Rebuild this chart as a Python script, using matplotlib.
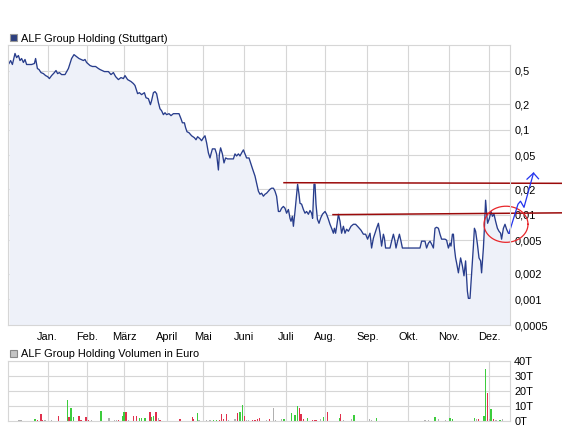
import numpy as np
import matplotlib
matplotlib.use("Agg")
import matplotlib.pyplot as plt
from matplotlib.patches import Rectangle

plt.rcParams['font.family'] = ['Liberation Sans', 'DejaVu Sans']

# trading day index (0..251) and closing price in EUR
days = [0.5, 1.3, 2.2, 3.5, 4.3, 5.2, 6, 6.8, 7.7, 8.5, 9.3, 11.8, 13.2, 13.8, 14.7, 15.5,
        16.5, 17.7, 18.8, 19.8, 20.7, 21.8, 23.2, 24, 24.8, 25.7, 26.8, 28.5, 30.2, 31.8,
        33, 34.3, 35.5, 36.5, 37.7, 38.5, 39.3, 41, 42.2, 43.8, 45.2, 46, 48.2, 50.2, 51.5,
        52.7, 53.8, 55.2, 56.5, 57.7, 58.5, 59.8, 61.5, 62.7, 63.5, 64.3, 64.8, 65.7, 66.8,
        68.2, 69, 70.2, 71.2, 71.8, 72.7, 73.5, 74.3, 75.2, 76, 76.8, 77.7, 78.5, 79.3,
        80.5, 81.5, 82.7, 84.3, 85.5, 86.5, 87.2, 88.2, 88.8, 89.5, 90.5, 91.8, 93.2, 94,
        94.8, 96, 96.8, 97.7, 98.5, 99.3, 100.2, 101, 101.5, 102.2, 103.5, 104.3, 105.2,
        105.7, 106.3, 107.2, 108, 108.8, 109.8, 112.7, 113.5, 114.3, 115.2, 116, 116.8,
        117.7, 118.5, 119.3, 120.5, 121.3, 122.3, 123.5, 124.3, 125.2, 126, 126.8, 127.7,
        128.5, 129.3, 130.2, 131, 131.8, 132.7, 133.5, 134.3, 135.2, 136, 136.8, 137.7,
        138.5, 139.3, 140.2, 141, 141.5, 142.2, 142.7, 143.5, 144.3, 144.8, 145.5, 146,
        146.8, 147.7, 148.5, 149.3, 150.2, 151, 151.8, 152.3, 153, 153.5, 154, 154.7, 155.5,
        156.3, 157.2, 158.5, 159.3, 160.2, 161, 161.8, 162.7, 163.2, 163.8, 164.5, 165.2,
        166, 166.8, 167.7, 168.5, 169.3, 170.2, 171.5, 172.7, 173.8, 175.2, 176.5, 177.7,
        178.8, 179.8, 181, 181.8, 182.7, 183.5, 184.3, 185.2, 186, 186.8, 187.7, 188.2,
        188.8, 191, 191.8, 192.7, 193.5, 194, 194.8, 195.7, 196.5, 197.2, 206, 206.8, 208.5,
        209.3, 210.2, 211, 211.8, 212.7, 213.5, 214.3, 215.2, 216, 216.8, 218.5, 219.3,
        220.2, 221, 221.5, 222.2, 222.7, 223.2, 223.8, 224.3, 225.2, 226.3, 227.2, 228,
        228.8, 229.7, 230.2, 231, 231.8, 232.7, 233.2, 233.8, 234.7, 235.5, 236.3, 236.8,
        237.7, 238.2, 238.8, 239.3, 239.8, 240.7, 241.5, 242.2, 243, 243.8, 244.7, 245.5,
        246.3, 246.8, 247.7, 248.5, 249.3, 250.2, 250.7]
price = [0.605, 0.656, 0.589, 0.795, 0.71, 0.752, 0.656, 0.693, 0.622, 0.675, 0.589, 0.589,
         0.605, 0.693, 0.528, 0.514, 0.473, 0.46, 0.436, 0.424, 0.402, 0.436, 0.473, 0.5,
         0.46, 0.473, 0.448, 0.448, 0.528, 0.693, 0.77, 0.73, 0.693, 0.675, 0.656, 0.675,
         0.622, 0.573, 0.558, 0.558, 0.528, 0.514, 0.486, 0.486, 0.448, 0.473, 0.424, 0.391,
         0.413, 0.402, 0.436, 0.391, 0.371, 0.351, 0.333, 0.29, 0.267, 0.274, 0.26, 0.274,
         0.239, 0.233, 0.198, 0.221, 0.274, 0.282, 0.267, 0.209, 0.177, 0.168, 0.151, 0.159,
         0.151, 0.155, 0.147, 0.155, 0.155, 0.155, 0.135, 0.121, 0.121, 0.106, 0.0949,
         0.0924, 0.0851, 0.0807, 0.0764, 0.0829, 0.0785, 0.0744, 0.0807, 0.0851, 0.0704,
         0.0534, 0.0466, 0.052, 0.0596, 0.0596, 0.052, 0.0336, 0.052, 0.0613, 0.052, 0.0407,
         0.0466, 0.0454, 0.0454, 0.052, 0.0492, 0.052, 0.0492, 0.0534, 0.058, 0.052, 0.0466,
         0.0466, 0.0407, 0.0345, 0.0285, 0.0235, 0.0189, 0.0174, 0.0179, 0.0165, 0.0174,
         0.0179, 0.0189, 0.0199, 0.0205, 0.0205, 0.0189, 0.0165, 0.0109, 0.0109, 0.0119,
         0.0125, 0.0119, 0.0104, 0.0115, 0.00906, 0.00836, 0.00956, 0.00729, 0.0109, 0.0174,
         0.0228, 0.0174, 0.0136, 0.0133, 0.0115, 0.0104, 0.0109, 0.0101, 0.0112, 0.0104,
         0.00906, 0.0228, 0.0228, 0.0133, 0.00882, 0.00791, 0.00906, 0.0101, 0.0109, 0.0101,
         0.00882, 0.0077, 0.00691, 0.00604, 0.00691, 0.00604, 0.0077, 0.0101, 0.00836,
         0.00604, 0.00729, 0.00604, 0.00673, 0.00637, 0.00729, 0.0077, 0.0077, 0.0071,
         0.00655, 0.00588, 0.00588, 0.00514, 0.00604, 0.00404, 0.00528, 0.00604, 0.00691,
         0.00791, 0.00604, 0.00426, 0.00588, 0.00528, 0.00404, 0.00404, 0.00487, 0.00588,
         0.00487, 0.00404, 0.00487, 0.00588, 0.00487, 0.00404, 0.00404, 0.00487, 0.00487,
         0.00404, 0.00461, 0.00487, 0.0045, 0.00404, 0.00691, 0.0071, 0.00691, 0.00588,
         0.00514, 0.00514, 0.005, 0.00404, 0.00461, 0.00426, 0.00588, 0.00588, 0.00404,
         0.00309, 0.0027, 0.00206, 0.00309, 0.00249, 0.0019, 0.00285, 0.00125, 0.00103,
         0.00103, 0.002, 0.00426, 0.00691, 0.00637, 0.0045, 0.00309, 0.00285, 0.00206,
         0.00404, 0.00691, 0.0148, 0.0104, 0.00791, 0.00906, 0.0109, 0.00956, 0.0101,
         0.00836, 0.00691, 0.00637, 0.00604, 0.00514, 0.00691, 0.0077, 0.00673, 0.00604,
         0.00604]

# daily volume in thousand EUR, direction: 1 up, -1 down, 0 unchanged
vol_days = [5.2, 6, 6.8, 13.5, 14.7, 16.5, 17.3, 18.5, 21.8, 25.2, 29.7, 30.5, 31.5, 32.7,
            35.5, 36.5, 39, 40.2, 41.8, 46.5, 50.5, 53.2, 54.3, 55.2, 57.2, 58, 59, 60.2,
            62.7, 64.3, 65.7, 66.8, 68.5, 71, 71.8, 72.7, 74, 75.2, 76, 86, 92.2, 92.7, 94.7,
            95.5, 99.3, 101, 102.7, 104.3, 105.7, 106.8, 107.7, 109.3, 110.2, 113.5, 114.7,
            116, 117.2, 118.2, 119.3, 120.2, 122.3, 123.5, 124.7, 125.7, 129.3, 130.7, 132.7,
            133.8, 136.8, 138, 141.8, 143.5, 144.7, 145.7, 146.5, 147.7, 149.7, 152.2, 153.5,
            154.3, 156.3, 157.7, 159.7, 165.7, 166.3, 167.7, 171.8, 173, 180.7, 181.8, 184.3,
            208.5, 210.2, 213.5, 215.2, 218.8, 221, 222.3, 233.2, 234.3, 235.3, 238, 238.7,
            239.7, 240.7, 241.5, 242.7, 244, 246, 247.3]
volume = [0.4, 0.4, 0.4, 1.6, 0.8, 4.7, 0.9, 0.5, 0.6, 3.4, 14, 2.9, 8.5, 2.5, 3.4, 0.9,
          2.5, 0.9, 0.4, 6.7, 1.8, 0.4, 0.4, 0.9, 3.4, 6.3, 6.3, 0.5, 3.4, 3.4, 1.8, 2.2,
          1.8, 6.3, 2.9, 3.4, 6.3, 1.8, 0.9, 1.6, 2.9, 1.6, 5.6, 0.9, 0.5, 0.5, 0.5, 0.9,
          0.9, 4.7, 1.6, 4.7, 0.9, 1.3, 5.6, 6.3, 10.7, 3.4, 0.5, 0.9, 0.9, 0.9, 1.3, 2.0,
          0.5, 1.6, 8.5, 0.9, 1.1, 1.1, 5.6, 4.0, 10.3, 9.0, 4.7, 1.1, 1.8, 0.6, 0.6, 0.6,
          1.1, 2.9, 6.3, 1.8, 4.7, 0.5, 1.1, 4.0, 1.1, 0.5, 2.2, 0.5, 0.5, 2.9, 1.1, 0.5,
          1.8, 1.3, 2.2, 1.3, 1.3, 3.4, 34.4, 19.0, 1.3, 7.8, 1.3, 0.5, 0.9, 1.3]
direction = [0, 0, 0, 1, -1, -1, -1, 0, 0, -1, 1, -1, 1, 1, -1, -1, -1, -1, 0, 1, 0, 0, 0,
             -1, 1, 1, -1, 0, -1, -1, 1, 1, 1, -1, 1, 1, -1, 0, -1, -1, -1, -1, 1, 0, 0, 0,
             1, 1, -1, -1, -1, -1, 0, 0, -1, 1, 1, -1, 0, 0, -1, -1, -1, -1, 0, -1, 0, 0, 0,
             1, 1, 1, 1, -1, -1, -1, 1, -1, -1, -1, 0, 1, -1, 1, -1, 0, 0, 1, 0, 0, 1, 0, 0,
             1, 0, 0, 1, 1, 1, 0, -1, 1, 1, -1, 0, 1, -1, 0, 1, 0]

months = ["Jan.", "Feb.", "März", "April", "Mai", "Juni", "Juli", "Aug.", "Sep.", "Okt.",
          "Nov.", "Dez."]
month_days = [19.8, 39.3, 58.2, 79.7, 97.7, 118.2, 139, 158.5, 179.7, 200.2, 220.5, 240.7]

price_ticks = [0.0005, 0.001, 0.002, 0.005, 0.01, 0.02, 0.05, 0.1, 0.2, 0.5]
vol_ticks = [0, 10, 20, 30, 40]

# resistance lines and projected move (chart annotation)
upper_line = ([138, 277], [0.0238, 0.0234])
lower_line = ([162.5, 277], [0.0100, 0.0105])
arrow_days = [250.5, 255, 256.25, 258, 262.75]
arrow_vals = [0.00604, 0.0133, 0.0144, 0.0122, 0.0309]
arrow_head_days = [259.5, 262.75, 265.25]
arrow_head_vals = [0.0262, 0.0309, 0.0265]

W, H = 562, 440
fig = plt.figure(figsize=(W / 100, H / 100), dpi=100)
grid_col = '#d6d6d6'
line_col = '#283d8c'
fs = 7.9

ax = fig.add_axes([8 / W, (H - 325) / H, 502 / W, 280 / H])
ax.set_yscale('log')
ax.set_xlim(0, 251)
ax.set_ylim(0.0005, 1.0)
ax.fill_between(days, price, 0.0005, color='#eef1f9', lw=0)
ax.plot(days, price, color=line_col, lw=0.95)

for d in month_days:
    ax.axvline(d, color=grid_col, lw=0.8, zorder=0)
for v in price_ticks[1:]:
    ax.axhline(v, color=grid_col, lw=0.8, zorder=0)

ax.yaxis.tick_right()
ax.set_yticks(price_ticks)
ax.set_yticklabels([('%g' % v).replace('.', ',') for v in price_ticks])
ax.yaxis.set_minor_locator(matplotlib.ticker.NullLocator())
ax.set_xticks(month_days)
ax.set_xticklabels(months)
ax.tick_params(length=0, labelsize=fs, pad=3)
ax.tick_params(axis='x', pad=5)
for s in ax.spines.values():
    s.set_color(grid_col)
    s.set_linewidth(0.8)

red = '#9b0a0a'
ax.plot(*upper_line, color=red, lw=1.1, clip_on=False)
ax.plot(*lower_line, color=red, lw=1.1, clip_on=False)

t = np.linspace(0, 2 * np.pi, 200)
ell_x = 249 + 11 * np.cos(t)
ell_y = 0.0077 * 10 ** (0.213 * np.sin(t))
ax.plot(ell_x, ell_y, color='#e8262a', lw=0.9, clip_on=False)

ax.plot(arrow_days, arrow_vals, color='#2233ee', lw=0.9, clip_on=False)
ax.plot(arrow_head_days, arrow_head_vals, color='#2233ee', lw=0.9, clip_on=False)

# volume panel
vax = fig.add_axes([8 / W, (H - 421) / H, 502 / W, 60 / H])
vax.set_xlim(0, 251)
vax.set_ylim(0, 40)
bar_cols = {1: '#3ccc3c', -1: '#e0304c', 0: '#b0b0b0'}
vax.bar(vol_days, volume, width=0.75, color=[bar_cols[d] for d in direction], lw=0)
for d in month_days:
    vax.axvline(d, color=grid_col, lw=0.8, zorder=0)
for v in vol_ticks[1:]:
    vax.axhline(v, color=grid_col, lw=0.8, zorder=0)
vax.yaxis.tick_right()
vax.set_yticks(vol_ticks)
vax.set_yticklabels(['%dT' % v for v in vol_ticks])
vax.set_xticks([])
vax.tick_params(length=0, labelsize=fs, pad=3)
for s in vax.spines.values():
    s.set_color(grid_col)
    s.set_linewidth(0.8)

# legend-like titles
fig.patches.append(Rectangle((9.5 / W, 1 - 41.5 / H), 7 / W, 7 / H, transform=fig.transFigure,
                             facecolor='#2c3f7e', edgecolor='#999999', lw=0.8))
fig.text(21 / W, 1 - 38.5 / H, "ALF Group Holding (Stuttgart)", fontsize=fs, va='center')
fig.patches.append(Rectangle((9.5 / W, 1 - 356.5 / H), 7 / W, 7 / H, transform=fig.transFigure,
                             facecolor='#c4c4c4', edgecolor='#888888', lw=0.8))
fig.text(21 / W, 1 - 353.5 / H, "ALF Group Holding Volumen in Euro", fontsize=fs, va='center')

fig.savefig("out.png", dpi=100)
